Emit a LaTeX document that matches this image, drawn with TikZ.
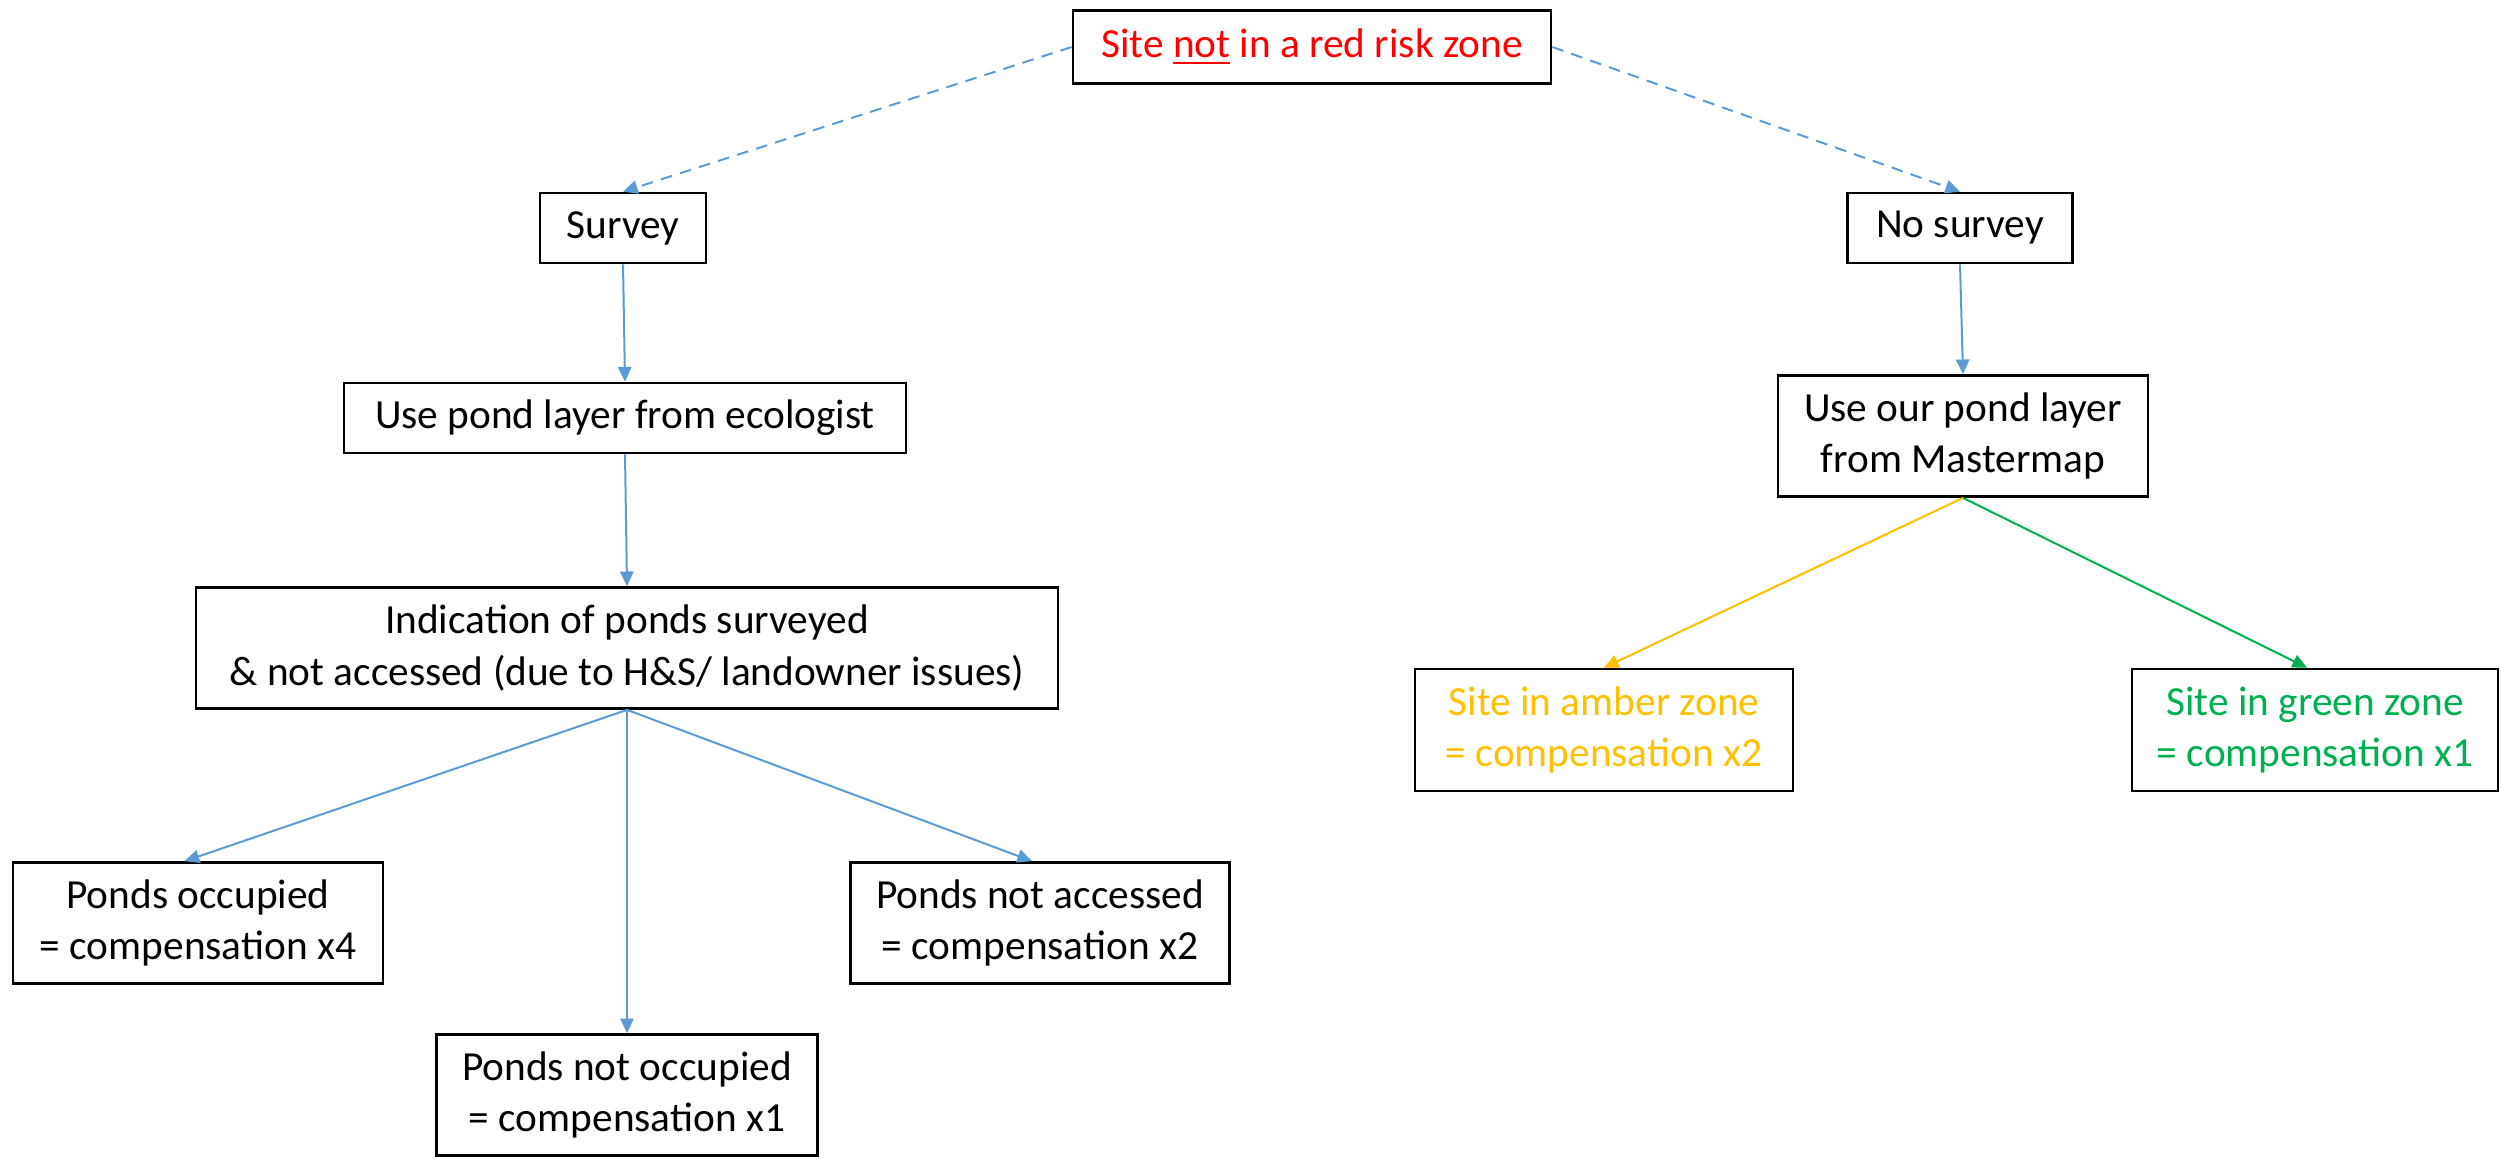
\documentclass[tikz,border=0pt]{standalone}
\usepackage{fontspec}
\setmainfont{Carlito}
\usepackage{tikz}
\usetikzlibrary{positioning,arrows.meta}
\definecolor{PondBlue}{HTML}{5B9BD5}
\definecolor{RiskRed}{HTML}{FF0000}
\definecolor{ZoneAmber}{HTML}{FFC000}
\definecolor{ZoneGreen}{HTML}{00B050}

\begin{document}
\begin{tikzpicture}[x=0.3pt,y=-0.3pt,>={Triangle[length=4.4pt,width=4pt]}]
  \tikzstyle{pondbox}=[draw=black,line width=0.8pt,inner sep=0pt,align=center,
    font=\fontsize{12.4}{15.4}\selectfont]
  \tikzstyle{pondlink}=[->,line width=0.6pt,color=PondBlue]
  \useasboundingbox (0,0) rectangle (2501,1158);
  \node[pondbox,minimum width=143.4pt,minimum height=21.9pt,text=RiskRed] (top) at (1312,47)
    {Site \underline{not} in a red risk zone};
  \node[pondbox,minimum width=49.8pt,minimum height=21pt] (survey) at (623,228) {Survey};
  \node[pondbox,minimum width=67.5pt,minimum height=21pt] (nosurvey) at (1960,228) {No survey};
  \node[pondbox,minimum width=168.6pt,minimum height=21pt] (ecol) at (625,418)
    {Use pond layer from ecologist};
  \node[pondbox,minimum width=111pt,minimum height=36.3pt] (master) at (1963,436)
    {Use our pond layer\\from Mastermap};
  \node[pondbox,minimum width=258.6pt,minimum height=36.3pt] (indic) at (627,648)
    {Indication of ponds surveyed\\\& not accessed (due to H\&S/ landowner issues)};
  \node[pondbox,minimum width=111pt,minimum height=36.3pt] (occ) at (198,923)
    {Ponds occupied\\= compensation x4};
  \node[pondbox,minimum width=113.7pt,minimum height=36.3pt] (notacc) at (1040,923)
    {Ponds not accessed\\= compensation x2};
  \node[pondbox,minimum width=114.3pt,minimum height=36.3pt] (notocc) at (627,1095)
    {Ponds not occupied\\= compensation x1};
  \node[pondbox,minimum width=113.4pt,minimum height=36.6pt,text=ZoneAmber] (amber) at (1604,730)
    {Site in amber zone\\= compensation x2};
  \node[pondbox,minimum width=109.8pt,minimum height=36.6pt,text=ZoneGreen] (green) at (2315,730)
    {Site in green zone\\= compensation x1};
  % survey or not
  \draw[pondlink,dash pattern=on 3.5pt off 2.5pt] (top.west) -- (survey.north);
  \draw[pondlink,dash pattern=on 3.5pt off 2.5pt] (top.east) -- (nosurvey.north);
  \draw[pondlink] (survey.south) -- (ecol.north);
  \draw[pondlink] (ecol.south) -- (indic.north);
  \draw[pondlink] (nosurvey.south) -- (master.north);
  % outcomes
  \draw[pondlink] (indic.south) -- ([xshift=-4pt]occ.north);
  \draw[pondlink] (indic.south) -- (notocc.north);
  \draw[pondlink] (indic.south) -- ([xshift=-2.4pt]notacc.north);
  \draw[->,line width=0.6pt,color=ZoneAmber] (master.south) -- (amber.north);
  \draw[->,line width=0.6pt,color=ZoneGreen] (master.south) -- ([xshift=-2.4pt]green.north);
\end{tikzpicture}
\end{document}
